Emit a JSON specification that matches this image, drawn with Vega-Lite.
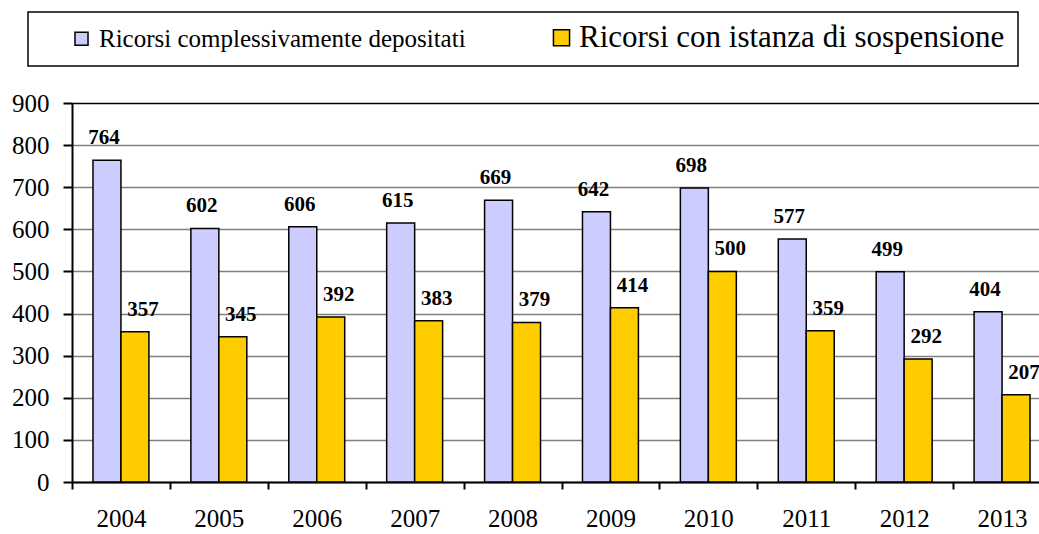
{
  "$schema": "https://vega.github.io/schema/vega-lite/v6.json",
  "autosize": "none",
  "width": 979,
  "height": 379,
  "padding": {"left": 72, "top": 103, "right": 0, "bottom": 52},
  "background": "white",
  "config": {"view": {"stroke": null}, "font": "'Liberation Serif', serif"},
  "data": {"values": [
    {"anno": "2004", "serie": "Ricorsi complessivamente depositati", "valore": 764},
    {"anno": "2004", "serie": "Ricorsi con istanza di sospensione", "valore": 357},
    {"anno": "2005", "serie": "Ricorsi complessivamente depositati", "valore": 602},
    {"anno": "2005", "serie": "Ricorsi con istanza di sospensione", "valore": 345},
    {"anno": "2006", "serie": "Ricorsi complessivamente depositati", "valore": 606},
    {"anno": "2006", "serie": "Ricorsi con istanza di sospensione", "valore": 392},
    {"anno": "2007", "serie": "Ricorsi complessivamente depositati", "valore": 615},
    {"anno": "2007", "serie": "Ricorsi con istanza di sospensione", "valore": 383},
    {"anno": "2008", "serie": "Ricorsi complessivamente depositati", "valore": 669},
    {"anno": "2008", "serie": "Ricorsi con istanza di sospensione", "valore": 379},
    {"anno": "2009", "serie": "Ricorsi complessivamente depositati", "valore": 642},
    {"anno": "2009", "serie": "Ricorsi con istanza di sospensione", "valore": 414},
    {"anno": "2010", "serie": "Ricorsi complessivamente depositati", "valore": 698},
    {"anno": "2010", "serie": "Ricorsi con istanza di sospensione", "valore": 500},
    {"anno": "2011", "serie": "Ricorsi complessivamente depositati", "valore": 577},
    {"anno": "2011", "serie": "Ricorsi con istanza di sospensione", "valore": 359},
    {"anno": "2012", "serie": "Ricorsi complessivamente depositati", "valore": 499},
    {"anno": "2012", "serie": "Ricorsi con istanza di sospensione", "valore": 292},
    {"anno": "2013", "serie": "Ricorsi complessivamente depositati", "valore": 404},
    {"anno": "2013", "serie": "Ricorsi con istanza di sospensione", "valore": 207}
  ]},
  "encoding": {
    "x": {"field": "anno", "type": "nominal", "scale": {"paddingInner": 0, "paddingOuter": 0},
      "axis": {"title": null, "labelAngle": 0, "labelFont": "'Liberation Serif', serif", "labelFontSize": 25, "labelColor": "black",
        "labelPadding": 17, "domainColor": "black", "domainWidth": 2, "tickColor": "black", "tickWidth": 2, "tickSize": 7,
        "tickBand": "extent", "grid": false}},
    "xOffset": {"field": "serie", "type": "nominal", "scale": {"paddingInner": 0, "paddingOuter": 0.75}},
    "y": {"field": "valore", "type": "quantitative", "scale": {"domain": [0, 900], "nice": false},
      "axis": {"title": null, "values": [0, 100, 200, 300, 400, 500, 600, 700, 800, 900], "labelFont": "'Liberation Serif', serif",
        "labelFontSize": 25, "labelColor": "black", "labelPadding": 14, "domainColor": "black", "domainWidth": 2,
        "tickColor": "black", "tickWidth": 2, "tickSize": 9,
        "grid": true, "gridColor": {"condition": {"test": "datum.value == 900", "value": "black"}, "value": "#808080"}, "gridWidth": 1.5}}
  },
  "layer": [
    {
      "mark": {"type": "bar", "stroke": "black", "strokeWidth": 1.5},
      "encoding": {
        "color": {"field": "serie", "type": "nominal",
          "scale": {"domain": ["Ricorsi complessivamente depositati", "Ricorsi con istanza di sospensione"], "range": ["#CCCCFF", "#FFCC00"]},
          "legend": {"title": null, "orient": "none", "legendX": -44, "legendY": -91, "direction": "horizontal",
            "symbolType": "square", "symbolSize": 180, "symbolStrokeColor": "black", "symbolStrokeWidth": 1.5,
            "symbolOffset": 28, "labelFont": "'Liberation Serif', serif", "labelColor": "black", "labelOffset": 5,
            "labelFontSize": 25, "labelLimit": 700, "columnPadding": 55,
            "padding": 13, "fillColor": "white", "strokeColor": "black",
            "encode": {"labels": {"update": {"fontSize": {"signal": "datum.value == 'Ricorsi con istanza di sospensione' ? 31 : 25"}}},
                       "symbols": {"update": {"size": {"signal": "datum.value == 'Ricorsi con istanza di sospensione' ? 260 : 170"}}},
                       "legend": {"update": {"strokeWidth": {"value": 1.5}}}}}
        }
      }
    },
    {
      "transform": [{"filter": "datum.serie == 'Ricorsi complessivamente depositati'"}],
      "mark": {"type": "text", "baseline": "alphabetic", "dy": -16, "dx": -3, "font": "'Liberation Serif', serif", "fontSize": 21, "fontWeight": "bold", "color": "black"},
      "encoding": {"text": {"field": "valore", "type": "quantitative"}}
    },
    {
      "transform": [{"filter": "datum.serie == 'Ricorsi con istanza di sospensione'"}],
      "mark": {"type": "text", "baseline": "alphabetic", "dy": -16, "dx": 8, "font": "'Liberation Serif', serif", "fontSize": 21, "fontWeight": "bold", "color": "black"},
      "encoding": {"text": {"field": "valore", "type": "quantitative"}}
    }
  ]
}
